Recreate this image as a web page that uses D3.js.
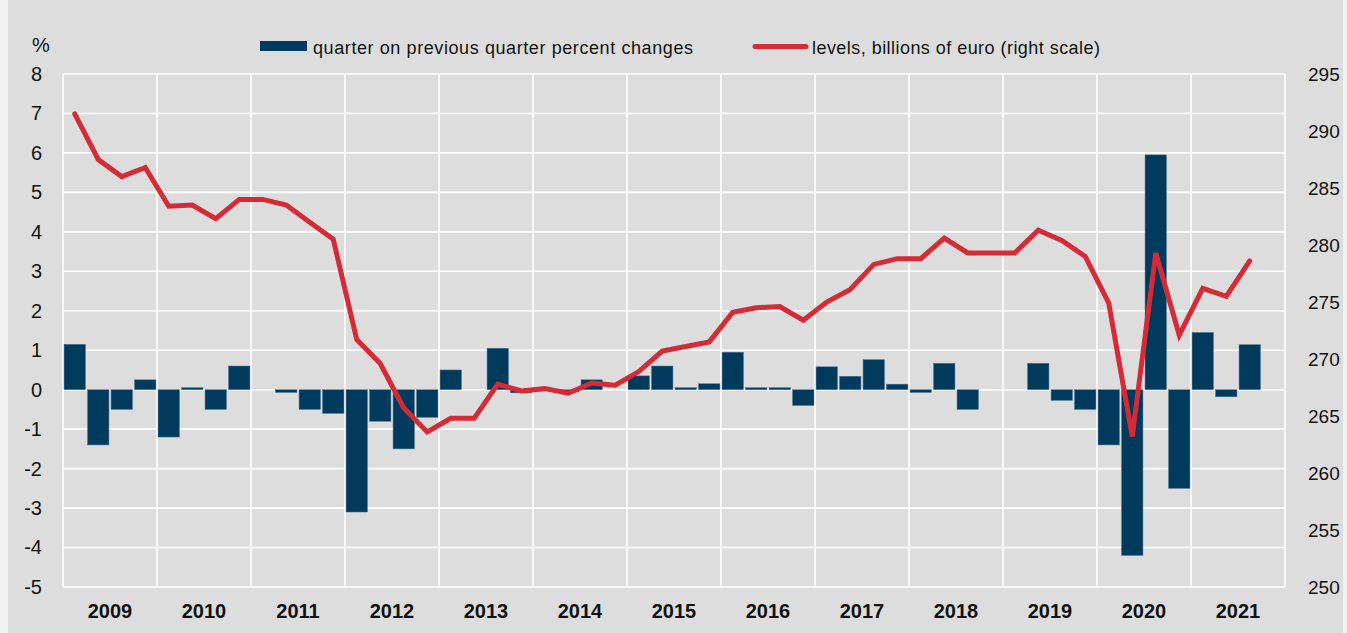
<!DOCTYPE html>
<html lang="en">
<head>
    <meta charset="UTF-8">
    <title>Quarterly changes and levels</title>
    <style>
        html, body {
            margin: 0;
            padding: 0;
            background: #f2f2f2;
            overflow: hidden;
        }

        svg {
            display: block;
            font-family: "Liberation Sans", Arial, sans-serif;
        }
    </style>
</head>
<body>
    <div class="box"></div>
    <script src="https://d3js.org/d3.v7.min.js"></script>
    <script>
        // data
        const years = [2009, 2010, 2011, 2012, 2013, 2014, 2015, 2016, 2017, 2018, 2019, 2020, 2021];
        const quarterNames = ['Q1', 'Q2', 'Q3', 'Q4'];

        // quarter on previous quarter percent changes (2009Q1 .. 2021Q3)
        const qoqChanges = [
            1.15, -1.4, -0.5, 0.25,
            -1.2, 0.05, -0.5, 0.6,
            0, -0.07, -0.5, -0.6,
            -3.1, -0.8, -1.5, -0.7,
            0.5, 0, 1.05, -0.08,
            0, -0.05, 0.25, 0,
            0.35, 0.6, 0.05, 0.15,
            0.95, 0.05, 0.05, -0.4,
            0.58, 0.34, 0.76, 0.14,
            -0.07, 0.67, -0.5, 0,
            0, 0.67, -0.27, -0.5,
            -1.4, -4.2, 5.95, -2.5,
            1.45, -0.18, 1.14
        ];

        // levels, billions of euro (right scale)
        const levels = [
            291.5, 287.5, 286.0, 286.8,
            283.4, 283.5, 282.3, 284.0,
            284.0, 283.5, 282.0, 280.5,
            271.7, 269.6, 265.7, 263.6,
            264.8, 264.8, 267.8, 267.2,
            267.4, 267.0, 267.9, 267.7,
            268.9, 270.7, 271.1, 271.5,
            274.1, 274.5, 274.6, 273.4,
            275.0, 276.1, 278.3, 278.8,
            278.8, 280.6, 279.3, 279.3,
            279.3, 281.3, 280.4, 279.0,
            274.9, 263.2, 279.3, 272.1,
            276.2, 275.5, 278.6
        ];

        const leftTicks = [-5, -4, -3, -2, -1, 0, 1, 2, 3, 4, 5, 6, 7, 8];
        const rightTicks = [250, 255, 260, 265, 270, 275, 280, 285, 290, 295];

        const legendBars = 'quarter on previous quarter percent changes';
        const legendLine = 'levels, billions of euro (right scale)';

        // all quarter slots on the axis (the last year is still open)
        const quarters = years.flatMap(y => quarterNames.map(q => `${y}${q}`));

        const width = 1347;
        const height = 633;
        const margin = { top: 74, right: 62, bottom: 46, left: 63 };
        const innerWidth = width - margin.left - margin.right;
        const innerHeight = height - margin.top - margin.bottom;

        const svg = d3.select('.box').append('svg')
            .attr('width', width)
            .attr('height', height);

        // grey panel
        svg.append('rect')
            .attr('x', 8)
            .attr('y', 0)
            .attr('width', width - 12)
            .attr('height', height)
            .attr('fill', '#dddddd');

        const g = svg.append('g')
            .attr('transform', `translate(${margin.left}, ${margin.top})`);

        // scales
        const xScale = d3.scaleBand()
            .domain(quarters)
            .range([0, innerWidth])
            .paddingInner(0.09)
            .paddingOuter(0.045);

        const yearScale = d3.scaleBand()
            .domain(years)
            .range([0, innerWidth]);

        const yLeft = d3.scaleLinear()
            .domain([-5, 8])
            .range([innerHeight, 0]);

        const yRight = d3.scaleLinear()
            .domain([250, 295])
            .range([innerHeight, 0]);

        // grid
        g.append('g').attr('class', 'grid-h')
            .selectAll('line').data(leftTicks).join('line')
            .attr('x1', 0)
            .attr('x2', innerWidth)
            .attr('y1', d => yLeft(d))
            .attr('y2', d => yLeft(d))
            .attr('stroke', '#ffffff')
            .attr('stroke-width', 1.6);

        const yearEdges = years.map(y => yearScale(y)).concat([innerWidth]);
        g.append('g').attr('class', 'grid-v')
            .selectAll('line').data(yearEdges).join('line')
            .attr('x1', d => d)
            .attr('x2', d => d)
            .attr('y1', 0)
            .attr('y2', innerHeight)
            .attr('stroke', '#ffffff')
            .attr('stroke-width', 1.6);

        // axes (plain hyphen for negatives, as in the original)
        const plain = d => `${d}`;
        const leftAxis = g.append('g')
            .call(d3.axisLeft(yLeft).tickValues(leftTicks).tickSize(0).tickPadding(21).tickFormat(plain));
        const rightAxis = g.append('g')
            .attr('transform', `translate(${innerWidth}, 0)`)
            .call(d3.axisRight(yRight).tickValues(rightTicks).tickSize(0).tickPadding(23).tickFormat(plain));
        const yearAxis = g.append('g')
            .attr('transform', `translate(0, ${innerHeight})`)
            .call(d3.axisBottom(yearScale).tickSize(0).tickPadding(17));

        [leftAxis, rightAxis, yearAxis].forEach(a => {
            a.select('.domain').remove();
            a.selectAll('.tick text')
                .attr('font-family', '"Liberation Sans", Arial, sans-serif')
                .attr('font-size', '20px')
                .attr('fill', '#111111');
        });
        rightAxis.selectAll('.tick text').attr('font-size', '19px');
        yearAxis.selectAll('.tick text')
            .attr('font-weight', 'bold')
            .attr('dy', '0.71em');

        g.append('text')
            .text('%')
            .attr('x', -31)
            .attr('y', -22)
            .attr('font-size', '20px')
            .attr('fill', '#111111');

        // bars
        const barData = qoqChanges.map((v, i) => ({ key: quarters[i], value: v }));
        g.append('g').attr('class', 'bars')
            .selectAll('rect').data(barData).join('rect')
            .attr('x', d => xScale(d.key))
            .attr('y', d => yLeft(Math.max(0, d.value)))
            .attr('width', xScale.bandwidth())
            .attr('height', d => Math.abs(yLeft(d.value) - yLeft(0)))
            .attr('fill', '#003a5c')
            .attr('stroke', '#4f7590')
            .attr('stroke-width', 0.5);

        // line
        const lineData = levels.map((v, i) => ({ key: quarters[i], value: v }));
        const line = d3.line()
            .x(d => xScale(d.key) + xScale.bandwidth() / 2)
            .y(d => yRight(d.value));

        g.append('path')
            .datum(lineData)
            .attr('d', line)
            .attr('fill', 'none')
            .attr('stroke', '#d52b36')
            .attr('stroke-width', 5)
            .attr('stroke-linejoin', 'miter')
            .attr('stroke-linecap', 'round');

        // legend
        const legend = svg.append('g').attr('class', 'legend');
        legend.append('rect')
            .attr('x', 260)
            .attr('y', 41)
            .attr('width', 47)
            .attr('height', 10)
            .attr('fill', '#003a5c');
        legend.append('text')
            .text(legendBars)
            .attr('x', 313)
            .attr('y', 54)
            .attr('font-size', '18px')
            .attr('textLength', 380)
            .attr('fill', '#111111');
        legend.append('line')
            .attr('x1', 755)
            .attr('x2', 806)
            .attr('y1', 46.5)
            .attr('y2', 46.5)
            .attr('stroke', '#d52b36')
            .attr('stroke-width', 5)
            .attr('stroke-linecap', 'round');
        legend.append('text')
            .text(legendLine)
            .attr('x', 812)
            .attr('y', 54)
            .attr('font-size', '18px')
            .attr('textLength', 288)
            .attr('fill', '#111111');
    </script>
</body>
</html>
